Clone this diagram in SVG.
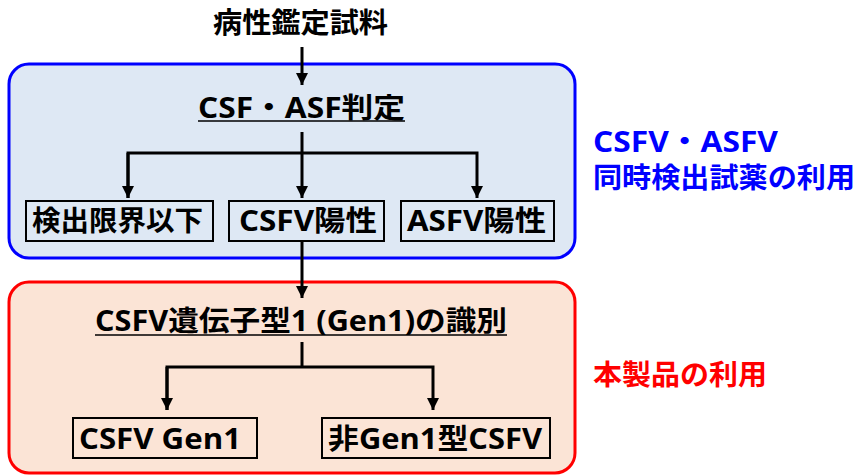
<svg xmlns="http://www.w3.org/2000/svg" width="859" height="475" viewBox="0 0 859 475">
<style>
text{font-family:"Open Sans","Noto Sans CJK JP","Noto Sans",sans-serif;font-weight:bold;font-size:28px;fill:#000}
.c{text-anchor:middle}
.box{fill:none;stroke:#000;stroke-width:2}
.ln{stroke:#000;stroke-width:3;fill:none}
.ul{stroke:#000;stroke-width:1.6}
.blue{fill:#0000FF}
.red{fill:#FF0000}
</style>
<defs>
<marker id="ah" viewBox="0 0 10 10" refX="10" refY="5" markerWidth="4" markerHeight="4" orient="auto" markerUnits="strokeWidth">
<path d="M0,0 L10,5 L0,10 z" fill="#000"/>
</marker>
</defs>
<g id="panel-blue"><rect x="9" y="64" width="566" height="194" rx="20" fill="#DEE8F4" stroke="#0000FF" stroke-width="3"/></g>
<g id="panel-red"><rect x="9" y="282" width="566" height="191" rx="20" fill="#FBE4D6" stroke="#FF0000" stroke-width="3"/></g>
<g id="n-sample"><text x="213" y="33" textLength="175" lengthAdjust="spacingAndGlyphs">病性鑑定試料</text></g>
<g id="n-judge"><text x="198" y="118" textLength="207" lengthAdjust="spacingAndGlyphs">CSF・ASF判定</text><line class="ul" x1="198" y1="121" x2="405" y2="121"/></g>
<g id="n-below"><rect class="box" x="26" y="201" width="187" height="40"/><text x="32" y="231" textLength="171" lengthAdjust="spacingAndGlyphs">検出限界以下</text></g>
<g id="n-csfv"><rect class="box" x="229" y="201" width="155" height="40"/><text x="239" y="231" textLength="138" lengthAdjust="spacingAndGlyphs">CSFV陽性</text></g>
<g id="n-asfv"><rect class="box" x="401" y="201" width="153" height="40"/><text x="407" y="231" textLength="139" lengthAdjust="spacingAndGlyphs">ASFV陽性</text></g>
<g id="n-gen1id"><text x="95" y="331" textLength="412" lengthAdjust="spacingAndGlyphs">CSFV遺伝子型1 (Gen1)の識別</text><line class="ul" x1="95" y1="335" x2="507" y2="335"/></g>
<g id="n-gen1"><rect class="box" x="73" y="418" width="184" height="40"/><text x="79" y="449" textLength="162" lengthAdjust="spacingAndGlyphs">CSFV Gen1</text></g>
<g id="n-nongen1"><rect class="box" x="322" y="418" width="228" height="40"/><text x="328" y="449" textLength="214" lengthAdjust="spacingAndGlyphs">非Gen1型CSFV</text></g>
<g id="lbl-blue"><text class="blue"><tspan x="593" y="152" textLength="185" lengthAdjust="spacingAndGlyphs">CSFV・ASFV</tspan><tspan x="593" y="188" textLength="262" lengthAdjust="spacingAndGlyphs">同時検出試薬の利用</tspan></text></g>
<g id="lbl-red"><text class="red" x="593" y="385" textLength="174" lengthAdjust="spacingAndGlyphs">本製品の利用</text></g>
<g id="connectors">
<line class="ln" x1="302" y1="47" x2="302" y2="85" marker-end="url(#ah)"/>
<line class="ln" x1="302" y1="132" x2="302" y2="198" marker-end="url(#ah)"/>
<path class="ln" d="M128,198 V153 H477 V198" marker-end="url(#ah)"/>
<line class="ln" x1="128" y1="153" x2="128" y2="198" marker-end="url(#ah)"/>
<line class="ln" x1="302" y1="241" x2="302" y2="298" marker-end="url(#ah)"/>
<path class="ln" d="M302,342 V367"/>
<path class="ln" d="M167,410 V367 H433 V410" marker-end="url(#ah)"/>
<line class="ln" x1="167" y1="367" x2="167" y2="410" marker-end="url(#ah)"/>
</g>
</svg>
